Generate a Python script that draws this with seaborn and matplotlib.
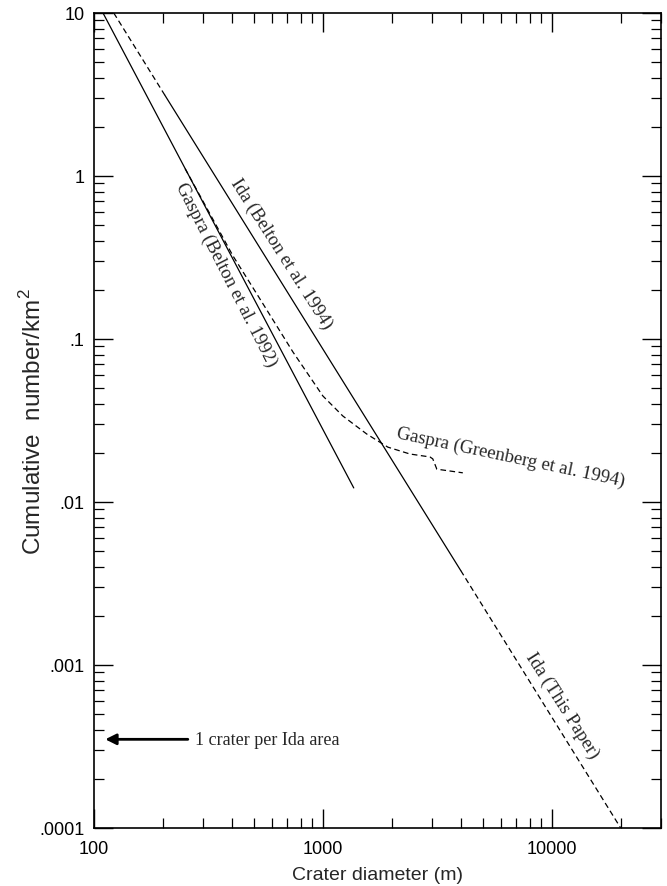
import numpy as np
import pandas as pd
import matplotlib
matplotlib.use("Agg")
import matplotlib.pyplot as plt
import seaborn as sns
from matplotlib.ticker import FixedLocator, FixedFormatter, LogLocator, NullFormatter

# ---- data ----
gaspra_belton_x = [109.5, 1364]
gaspra_belton_y = [10.0, 0.0122]

ida_upper_x = [122, 204]
ida_upper_y = [10.0, 3.13]
ida_belton_x = [204, 4000]
ida_belton_y = [3.13, 0.0038]
ida_this_x = [4000, 20000]
ida_this_y = [0.0038, 0.0001]

gaspra_greenberg_x = [250, 405, 531, 740, 1000, 1222, 1556, 1923, 2400, 2934, 3020, 3146, 4086]
gaspra_greenberg_y = [1.11, 0.323, 0.176, 0.0832, 0.0447, 0.0337, 0.0261, 0.0217, 0.0197,
                      0.0189, 0.0184, 0.0159, 0.0151]

ida_area_density = 3.5e-4

x_tick_values = [100, 1000, 10000]
x_tick_labels = ["100", "1000", "10000"]
y_tick_values = [1e-4, 1e-3, 1e-2, 1e-1, 1, 10]
y_tick_labels = [".0001", ".001", ".01", ".1", "1", "10"]

# ---- style ----
sns.set_style("ticks")
plt.rcParams["font.family"] = ["Liberation Sans", "DejaVu Sans"]
plt.rcParams["mathtext.fontset"] = "custom"
plt.rcParams["mathtext.rm"] = "Liberation Sans"
SERIF = ["Liberation Serif", "DejaVu Serif"]

fig = plt.figure(figsize=(6.67, 8.87), dpi=100)
ax = fig.add_axes([94 / 667, 1 - 829 / 887, (661 - 94) / 667, (829 - 14) / 887])

dash = (0, (4.5, 2.8))

def seg(xs, ys, dashed=False):
    df = pd.DataFrame({"x": xs, "y": ys})
    sns.lineplot(data=df, x="x", y="y", ax=ax, estimator=None, sort=False,
                 color="black", lw=0.9, legend=False)
    l = ax.lines[-1]
    if dashed:
        l.set_linestyle(dash)

seg(gaspra_belton_x, gaspra_belton_y)
seg(ida_upper_x, ida_upper_y, dashed=True)
seg(ida_belton_x, ida_belton_y)
seg(ida_this_x, ida_this_y, dashed=True)
seg(gaspra_greenberg_x, gaspra_greenberg_y, dashed=True)

ax.set_xscale("log")
ax.set_yscale("log")
ax.set_xlim(100, 30000)
ax.set_ylim(1e-4, 10)

ax.xaxis.set_major_locator(FixedLocator(x_tick_values))
ax.xaxis.set_major_formatter(FixedFormatter(x_tick_labels))
ax.xaxis.set_minor_locator(LogLocator(base=10, subs=np.arange(2, 10), numticks=20))
ax.xaxis.set_minor_formatter(NullFormatter())
ax.yaxis.set_major_locator(FixedLocator(y_tick_values))
ax.yaxis.set_major_formatter(FixedFormatter(y_tick_labels))
ax.yaxis.set_minor_locator(LogLocator(base=10, subs=np.arange(2, 10), numticks=20))
ax.yaxis.set_minor_formatter(NullFormatter())

ax.tick_params(which="both", direction="in", top=True, right=True, colors="black",
               labelsize=13)
ax.tick_params(axis="x", which="major", pad=9)
ax.tick_params(axis="y", which="major", pad=7)
ax.tick_params(which="major", length=14, width=1.0)
ax.tick_params(which="minor", length=7, width=0.9)
for s in ax.spines.values():
    s.set_linewidth(1.2)
    s.set_color("black")

ax.set_xlabel("Crater diameter (m)", fontsize=14, labelpad=6)
ax.set_ylabel("Cumulative  number/km$^2$", fontsize=17.5, labelpad=-5)

# ---- annotations ----
ax.text(656, 0.337, "Ida (Belton et al. 1994)", rotation=-57.5, rotation_mode="anchor",
        ha="center", va="center", family=SERIF, fontsize=13.5)
ax.text(377, 0.25, "Gaspra (Belton et al. 1992)", rotation=-63, rotation_mode="anchor",
        ha="center", va="center", family=SERIF, fontsize=13.5)
ax.text(6620, 0.0189, "Gaspra (Greenberg et al. 1994)", rotation=-12, rotation_mode="anchor",
        ha="center", va="center", family=SERIF, fontsize=13.5)
ax.text(11060, 0.000569, "Ida (This Paper)", rotation=-57.5, rotation_mode="anchor",
        ha="center", va="center", family=SERIF, fontsize=13.5)
ax.annotate("", xy=(112, ida_area_density), xytext=(257, ida_area_density),
            arrowprops=dict(arrowstyle="-|>", lw=2.0, color="black", mutation_scale=16,
                            shrinkA=0, shrinkB=0))
ax.text(276, ida_area_density, "1 crater per Ida area", ha="left", va="center",
        family=SERIF, fontsize=13)

fig.savefig("out.png", dpi=100)
